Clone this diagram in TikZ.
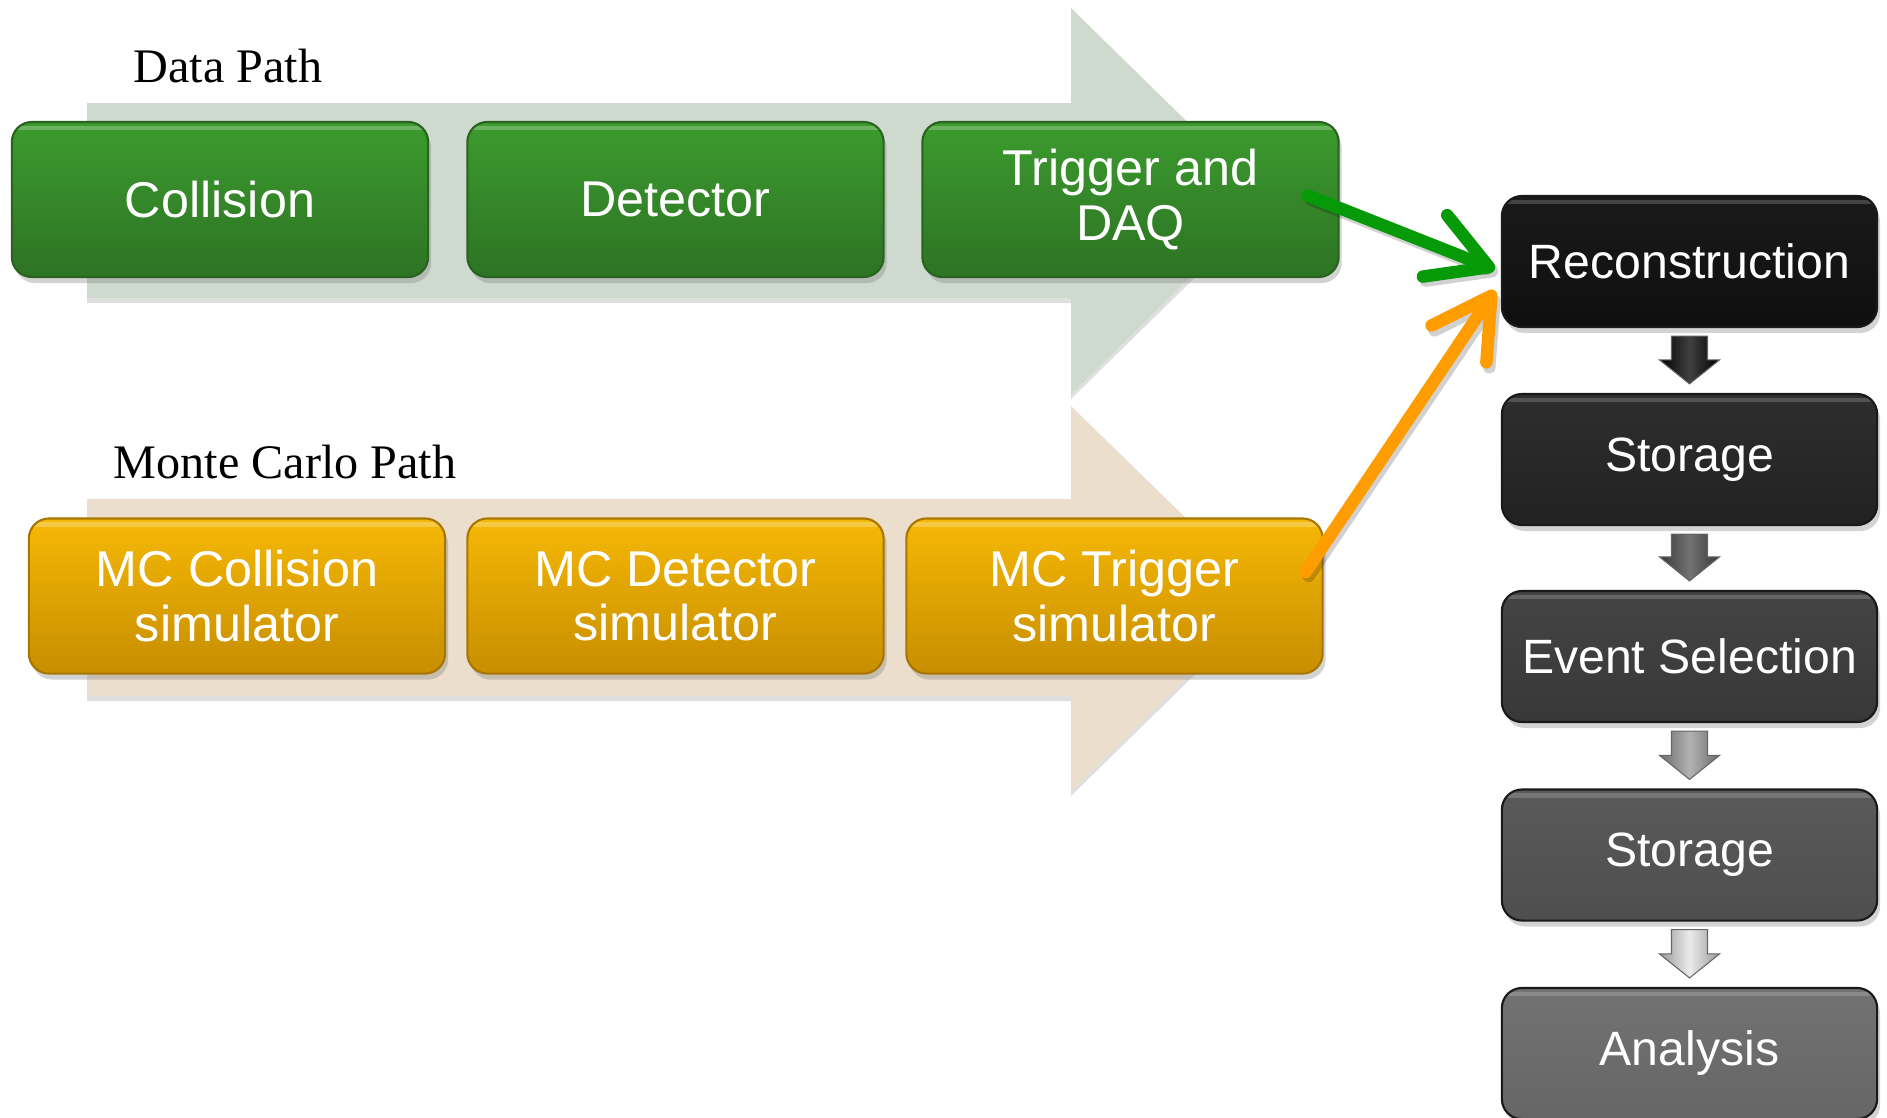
\documentclass[tikz,border=0pt]{standalone}
\usepackage{fontspec}
\setmainfont{Liberation Serif}
\newfontfamily\boxfont{Liberation Sans}
\usetikzlibrary{shadows,calc,arrows.meta}

\definecolor{datapath}{HTML}{CFDACF}
\definecolor{mcpath}{HTML}{ECDECC}
\definecolor{gtop}{HTML}{3C9B2E}
\definecolor{gbot}{HTML}{2D7324}
\definecolor{gedge}{HTML}{2A6220}
\definecolor{ytop}{HTML}{F6B806}
\definecolor{ybot}{HTML}{C78E00}
\definecolor{yedge}{HTML}{A87600}
\definecolor{linkgreen}{HTML}{079A08}
\definecolor{linkorange}{HTML}{FF9D00}
\definecolor{sta}{HTML}{1A1A1A}\definecolor{sua}{HTML}{0F0F0F}
\definecolor{stb}{HTML}{2E2E2E}\definecolor{sub}{HTML}{222222}
\definecolor{stc}{HTML}{444444}\definecolor{suc}{HTML}{383838}
\definecolor{std}{HTML}{5A5A5A}\definecolor{sud}{HTML}{4E4E4E}
\definecolor{ste}{HTML}{727272}\definecolor{sue}{HTML}{666666}

\tikzset{
  box/.style={rounded corners=0.2cm, inner sep=0pt, align=center,
    font=\boxfont\fontsize{13.7}{14.8}\selectfont, text=white, line width=0.6pt,
    drop shadow={shadow xshift=0.03cm, shadow yshift=-0.06cm, opacity=0.35},
    path picture={\draw[white, opacity=#1, line width=1.4pt]
      ($(path picture bounding box.north west)+(0,-0.06cm)$) --
      ($(path picture bounding box.north east)+(0,-0.06cm)$);}},
  box/.default=0.25,
  chainbox/.style={font=\boxfont\fontsize{14.3}{15.4}\selectfont,
    minimum width=4.16cm, minimum height=1.55cm},
  greenbox/.style={box, chainbox, top color=gtop, bottom color=gbot, draw=gedge},
  yellowbox/.style={box, chainbox, top color=ytop, bottom color=ybot, draw=yedge},
  stagebox/.style 2 args={box=0.18, minimum width=3.75cm, minimum height=1.31cm,
    top color=#1, bottom color=#2, draw=black!90},
  pathlabel/.style={font=\fontsize{13.7}{16}\selectfont, text=black, inner sep=0pt},
  bigarrow/.style={drop shadow={shadow xshift=0cm, shadow yshift=-0.05cm, opacity=0.25}},
  link/.style={line width=1.25mm, line cap=round,
    -{Straight Barb[round, length=5.8mm, width=6.6mm]}},
  linkshadow/.style={link, draw=black, opacity=0.18},
}

\begin{document}
\begin{tikzpicture}[x=0.01cm, y=-0.01cm]
\useasboundingbox (0,0) rectangle (1887,1117);
\clip (0,0) rectangle (1887,1117);

% broad process arrows behind the two chains
\fill[datapath, bigarrow] (87,103) -- (1071,103) -- (1071,8) -- (1268,201)
  -- (1071,394) -- (1071,298) -- (87,298) -- cycle;
\fill[mcpath, bigarrow] (87,499) -- (1071,499) -- (1071,406) -- (1268,598)
  -- (1071,791) -- (1071,696) -- (87,696) -- cycle;

% path titles
\node[pathlabel] (dlabel) at (228,66) {Data Path};
\node[pathlabel] (mlabel) at (285,462) {Monte Carlo Path};

% data chain
\node[greenbox] (coll) at (220,199.5) {Collision};
\node[greenbox] (det) at (675.5,199.5) {Detector};
\node[greenbox] (trig) at (1130.5,199.5) {Trigger and\\DAQ};

% simulation chain
\node[yellowbox] (mccoll) at (237,596) {MC Collision\\simulator};
\node[yellowbox] (mcdet) at (675.5,596) {MC Detector\\simulator};
\node[yellowbox] (mctrig) at (1114.5,596) {MC Trigger\\simulator};

% processing stages
\node[stagebox={sta}{sua}] (rec) at (1689.5,261.5) {Reconstruction};
\node[stagebox={stb}{sub}] (sto1) at (1689.5,459.5) {Storage};
\node[stagebox={stc}{suc}] (sel) at (1689.5,656.5) {Event Selection};
\node[stagebox={std}{sud}] (sto2) at (1689.5,855) {Storage};
\node[stagebox={ste}{sue}] (ana) at (1689.5,1053.5) {Analysis};

% block arrows between the stages
\foreach \a/\b/\cside/\cmid in {rec/sto1/black/black!75, sto1/sel/black!78/black!55,
    sel/sto2/black!58/black!30, sto2/ana/black!40/black!8}{
  \path ($(\a.south)+(0,8)$) coordinate (t) ($(\b.north)+(0,-9)$) coordinate (p);
  \shade[left color=\cside, right color=\cside, middle color=\cmid, draw=black!60, line width=0.3pt]
    ($(t)+(-18,0)$) -- ($(t)+(18,0)$) -- ($(p)+(18,-24)$) -- ($(p)+(30,-24)$)
    -- (p) -- ($(p)+(-30,-24)$) -- ($(p)+(-18,-24)$) -- cycle;
}

% links into reconstruction
\draw[linkshadow] ($(trig.east)+(-29,0)$) -- ($(rec.west)+(-3,12)$);
\draw[link, linkgreen] ($(trig.east)+(-32,-4)$) -- ($(rec.west)+(-6,8)$);
\draw[linkshadow] ($(mctrig.east)+(-15,-20)$) -- ($(rec.west)+(-3,34)$);
\draw[link, linkorange] ($(mctrig.east)+(-18,-24)$) -- ($(rec.west)+(-6,29)$);
\end{tikzpicture}
\end{document}
